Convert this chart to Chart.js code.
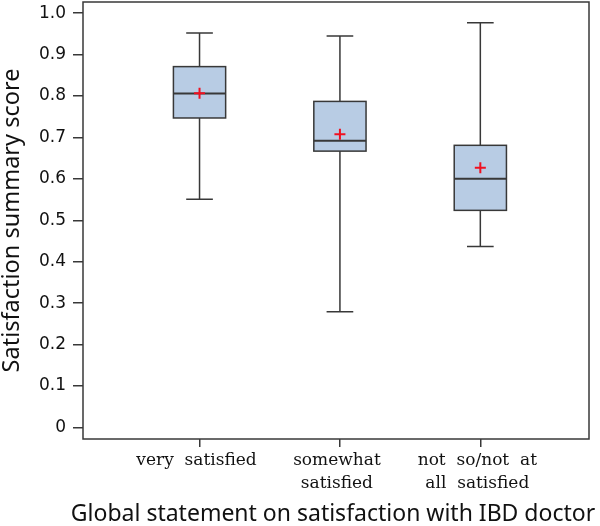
<!DOCTYPE html>
<html>
<head>
<meta charset="utf-8">
<script src="https://cdn.jsdelivr.net/npm/chart.js@4"></script>
<style>
  html, body { margin: 0; padding: 0; background: #fff; }
  #wrap { width: 600px; height: 526px; position: relative; }
</style>
</head>
<body>
<div id="wrap"><canvas id="boxChart"></canvas></div>
<script>
// === Data ===
const categories = [['very  satisfied'], ['somewhat', 'satisfied'], ['not  so/not  at', 'all  satisfied']];
const whiskerLow  = [0.551, 0.279, 0.437];
const q1          = [0.747, 0.667, 0.524];
const median      = [0.806, 0.692, 0.600];
const q3          = [0.871, 0.787, 0.681];
const whiskerHigh = [0.952, 0.945, 0.977];
const means       = [0.807, 0.708, 0.627];
const yTicks      = [0, 0.1, 0.2, 0.3, 0.4, 0.5, 0.6, 0.7, 0.8, 0.9, 1.0];
const xTitle = 'Global statement on satisfaction with IBD doctor';

const BOX_HALF = 0.186;   // in x units
const CAP_HALF = 0.095;
const LINE = '#383838';

// draws frame, whiskers, boxes and medians from the arrays above
const boxPlotPlugin = {
    id: 'boxPlot',
    beforeDatasetsDraw(chart) {
        const { ctx, chartArea: a, scales: { x, y } } = chart;
        ctx.save();
        ctx.strokeStyle = LINE;
        ctx.lineWidth = 1.5;
        ctx.strokeRect(a.left, a.top, a.right - a.left, a.bottom - a.top);

        categories.forEach((_, i) => {
            const v = i + 1;
            const cx = x.getPixelForValue(v);
            const bl = x.getPixelForValue(v - BOX_HALF);
            const br = x.getPixelForValue(v + BOX_HALF);
            const cl = x.getPixelForValue(v - CAP_HALF);
            const cr = x.getPixelForValue(v + CAP_HALF);
            const yLo = y.getPixelForValue(whiskerLow[i]);
            const yQ1 = y.getPixelForValue(q1[i]);
            const yMed = y.getPixelForValue(median[i]);
            const yQ3 = y.getPixelForValue(q3[i]);
            const yHi = y.getPixelForValue(whiskerHigh[i]);

            ctx.beginPath();
            ctx.moveTo(cx, yHi); ctx.lineTo(cx, yQ3);
            ctx.moveTo(cx, yQ1); ctx.lineTo(cx, yLo);
            ctx.moveTo(cl, yHi); ctx.lineTo(cr, yHi);
            ctx.moveTo(cl, yLo); ctx.lineTo(cr, yLo);
            ctx.stroke();

            ctx.fillStyle = '#b8cce4';
            ctx.fillRect(bl, yQ3, br - bl, yQ1 - yQ3);
            ctx.strokeRect(bl, yQ3, br - bl, yQ1 - yQ3);

            ctx.beginPath();
            ctx.lineWidth = 2;
            ctx.moveTo(bl, yMed); ctx.lineTo(br, yMed);
            ctx.stroke();
            ctx.lineWidth = 1.5;
        });
        ctx.restore();
    },
    // axis title drawn here so it is not squeezed to the plot width
    afterDraw(chart) {
        const { ctx, chartArea: a } = chart;
        ctx.save();
        ctx.font = '23px "Noto Sans"';
        ctx.fillStyle = '#111';
        ctx.textAlign = 'center';
        ctx.textBaseline = 'middle';
        ctx.fillText(xTitle, (a.left + a.right) / 2 - 3, chart.height - 12);
        ctx.restore();
    }
};

const ctx = document.getElementById('boxChart');
new Chart(ctx, {
    type: 'scatter',
    data: {
        datasets: [{
            label: 'Mean',
            data: means.map((m, i) => ({ x: i + 1, y: m })),
            pointStyle: 'cross',
            pointRadius: 5.5,
            pointBorderWidth: 2,
            borderColor: '#f01020',
            backgroundColor: '#f01020'
        }]
    },
    plugins: [boxPlotPlugin],
    options: {
        responsive: true,
        maintainAspectRatio: false,
        animation: false,
        layout: { autoPadding: false, padding: { top: 2, right: 11, left: 0, bottom: 0 } },
        plugins: {
            legend: { display: false },
            tooltip: { enabled: false }
        },
        scales: {
            x: {
                type: 'linear',
                min: 0.17,
                max: 3.774,
                afterBuildTicks: (axis) => { axis.ticks = categories.map((_, i) => ({ value: i + 1 })); },
                afterFit: (axis) => { axis.height = 87; axis.paddingLeft = 0; axis.paddingRight = 0; },
                ticks: {
                    callback: (v) => categories[v - 1],
                    font: { family: 'DejaVu Serif', size: 17, lineHeight: 1.3 },
                    color: '#111',
                    padding: 3,
                    labelOffset: -3,
                    maxRotation: 0,
                    autoSkip: false
                },
                grid: { drawOnChartArea: false, tickLength: 8, color: LINE, lineWidth: 1.5 },
                border: { display: false }
            },
            y: {
                min: -0.028,
                max: 1.027,
                afterBuildTicks: (axis) => { axis.ticks = yTicks.map(v => ({ value: v })); },
                afterFit: (axis) => { axis.width = 83; axis.paddingTop = 0; axis.paddingBottom = 0; },
                ticks: {
                    callback: (v) => v === 0 ? '0' : v.toFixed(1),
                    font: { family: 'DejaVu Sans', size: 17 },
                    color: '#111',
                    padding: 7
                },
                grid: { drawOnChartArea: false, tickLength: 10, color: LINE, lineWidth: 1.5 },
                border: { display: false },
                title: {
                    display: true,
                    text: 'Satisfaction summary score',
                    font: { family: 'Noto Sans', size: 23.5 },
                    color: '#111',
                    padding: { top: -2, bottom: 0 }
                }
            }
        }
    }
});
</script>
</body>
</html>
